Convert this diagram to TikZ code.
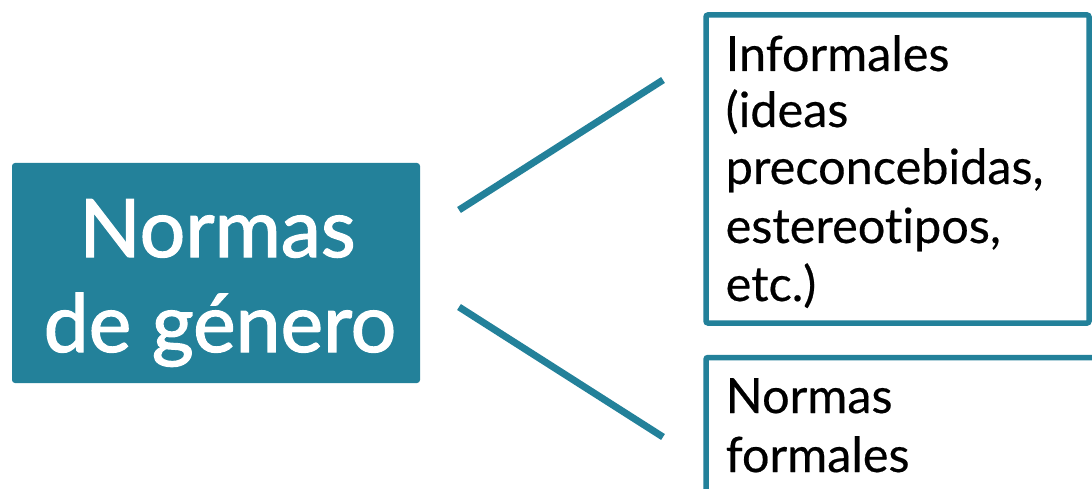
\documentclass[tikz,border=0pt]{standalone}
\usepackage{fontspec}
\setmainfont[Ligatures=NoCommon]{Lato}
\newfontfamily\heavyfont[FakeBold=1.6,Ligatures=NoCommon]{Lato}
\newfontfamily\midfont[FakeBold=0.4,Ligatures=NoCommon]{Lato}
\definecolor{tealc}{HTML}{23819A}
\tikzset{
  mainbox/.style={fill=tealc, rounded corners=3pt, inner sep=0pt, draw=none},
  outbox/.style={draw=tealc, line width=5.5pt, rounded corners=2pt, fill=white},
  bigtext/.style={text=white, font=\heavyfont\fontsize{80.5}{95}\selectfont, inner sep=0pt},
  smalltext/.style={text=black, font=\midfont\fontsize{48.6}{58}\selectfont, inner sep=0pt, anchor=base west},
  conn/.style={draw=tealc, line width=7pt}
}
\begin{document}
\begin{tikzpicture}[x=1pt,y=-1pt]
\useasboundingbox (0,0) rectangle (1092,489);
\clip (0,0) rectangle (1092,489);
\fill[white] (0,0) rectangle (1092,489);
% left box
\node[mainbox, minimum width=408pt, minimum height=220pt] (main) at (216,273) {};
\node[bigtext, anchor=base] (t1) at (217.5,257) {Normas};
\node[bigtext, anchor=base] (t2) at (220,352) {de género};
% right boxes
\draw[outbox] (706,15) rectangle (1089,323);
\node[smalltext] (a1) at (725.5,71) {Informales};
\node[smalltext] (a2) at (725.5,127) {(ideas};
\node[smalltext] (a3) at (725.5,184) {preconcebidas,};
\node[smalltext] (a4) at (725.5,243) {estereotipos,};
\node[smalltext] (a5) at (725.5,301) {etc.)};
\draw[outbox] (706,357.5) rectangle (1110,540);
\node[smalltext] (b1) at (725.5,413) {Normas};
\node[smalltext] (b2) at (725.5,472) {formales};
% connectors
\coordinate (s1) at (459,210);
\coordinate (e1) at (663,80);
\coordinate (s2) at (459,307);
\coordinate (e2) at (663,437);
\draw[conn] (s1) -- (e1);
\draw[conn] (s2) -- (e2);
\end{tikzpicture}
\end{document}
